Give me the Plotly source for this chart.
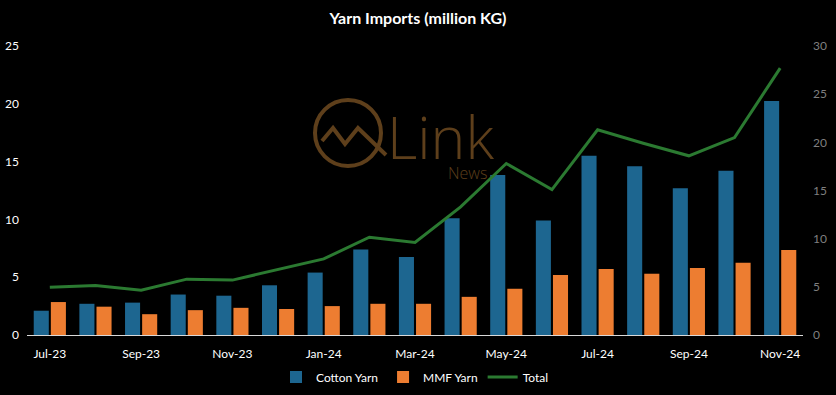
import plotly.graph_objects as go

months = ["Jul-23", "Aug-23", "Sep-23", "Oct-23", "Nov-23", "Dec-23",
          "Jan-24", "Feb-24", "Mar-24", "Apr-24", "May-24", "Jun-24",
          "Jul-24", "Aug-24", "Sep-24", "Oct-24", "Nov-24"]
cotton_yarn = [2.1, 2.7, 2.8, 3.5, 3.4, 4.3, 5.4, 7.4, 6.75, 10.1, 13.85, 9.9,
               15.5, 14.6, 12.7, 14.2, 20.25]
mmf_yarn = [2.85, 2.45, 1.8, 2.15, 2.35, 2.25, 2.5, 2.7, 2.7, 3.3, 4.0, 5.2,
            5.7, 5.3, 5.8, 6.25, 7.35]
total = [4.95, 5.15, 4.65, 5.8, 5.7, 6.8, 7.9, 10.15, 9.6, 13.3, 17.8, 15.1,
         21.3, 19.9, 18.6, 20.5, 27.7]
x_tick_labels = ["Jul-23", "Sep-23", "Nov-23", "Jan-24", "Mar-24", "May-24",
                 "Jul-24", "Sep-24", "Nov-24"]

W, H = 836, 395
L, R, T, B = 27, 33, 46, 60
PW, PH = W - L - R, H - T - B

def px(x):
    return (x - L) / PW

def py(y):
    return (H - B - y) / PH

FONT = "Lato"
fig = go.Figure()
fig.add_trace(go.Bar(x=months, y=cotton_yarn, name="Cotton Yarn",
                     marker=dict(color="#1d6690", line=dict(width=0))))
fig.add_trace(go.Bar(x=months, y=mmf_yarn, name="MMF Yarn",
                     marker=dict(color="#ed7d31", line=dict(width=0))))
fig.add_trace(go.Scatter(x=months, y=total, name="Total", mode="lines",
                         line=dict(color="#2b7a31", width=3), yaxis="y2"))

brown = "#5e3f1b"
shapes = [
    dict(type="circle", xref="paper", yref="paper",
         x0=px(315), x1=px(381), y0=py(166), y1=py(100),
         line=dict(color=brown, width=4)),
    dict(type="path", xref="paper", yref="paper",
         path=f"M {px(322)},{py(141)} L {px(333)},{py(128)} L {px(345)},{py(144)} "
              f"L {px(358)},{py(128)} L {px(386)},{py(155)}",
         line=dict(color=brown, width=4)),
]

fig.update_layout(
    width=W, height=H,
    margin=dict(l=L, r=R, t=T, b=B, autoexpand=False),
    paper_bgcolor="#000000", plot_bgcolor="#000000",
    barmode="group", bargap=0.25, bargroupgap=0.12,
    title=dict(text="<b>Yarn Imports (million KG)</b>", x=0.5, xanchor="center",
               y=1 - 18 / H, yanchor="middle",
               font=dict(family=FONT, size=16, color="#ffffff")),
    font=dict(family=FONT, color="#ffffff", size=12),
    xaxis=dict(type="category", tickmode="array", tickvals=x_tick_labels,
               ticktext=x_tick_labels, showgrid=False, showline=True,
               linecolor="#d9d9d9", linewidth=1, ticks="",
               tickfont=dict(size=12, color="#ffffff"), ticklabelstandoff=8),
    yaxis=dict(range=[0, 25], dtick=5, showgrid=False, zeroline=False,
               showline=False, ticks="", tickfont=dict(size=12, color="#ffffff"),
               ticklabelstandoff=7),
    yaxis2=dict(range=[0, 30], dtick=5, overlaying="y", side="right",
                showgrid=False, zeroline=False, showline=False, ticks="",
                tickfont=dict(size=12, color="#7f7f7f"), ticklabelstandoff=9),
    legend=dict(orientation="h", x=0.5, xanchor="center",
                yref="container", y=(H - 377) / H,
                yanchor="middle", font=dict(size=12, color="#ffffff"),
                bgcolor="rgba(0,0,0,0)", itemwidth=30, traceorder="normal"),
    shapes=shapes,
    annotations=[
        dict(text="Link", xref="paper", yref="paper", x=px(385), y=py(136),
             xanchor="left", yanchor="middle", showarrow=False,
             height=52, valign="middle",
             font=dict(family="Open Sans", size=59, color=brown, weight=300)),
        dict(text="News", xref="paper", yref="paper", x=px(446), y=py(173),
             xanchor="left", yanchor="middle", showarrow=False,
             font=dict(family="Open Sans", size=16, color=brown, weight=300)),
    ],
)

fig.write_html("out.html", config={"displayModeBar": False},
               post_script="document.body.style.margin='0';document.body.style.background='#000';")
